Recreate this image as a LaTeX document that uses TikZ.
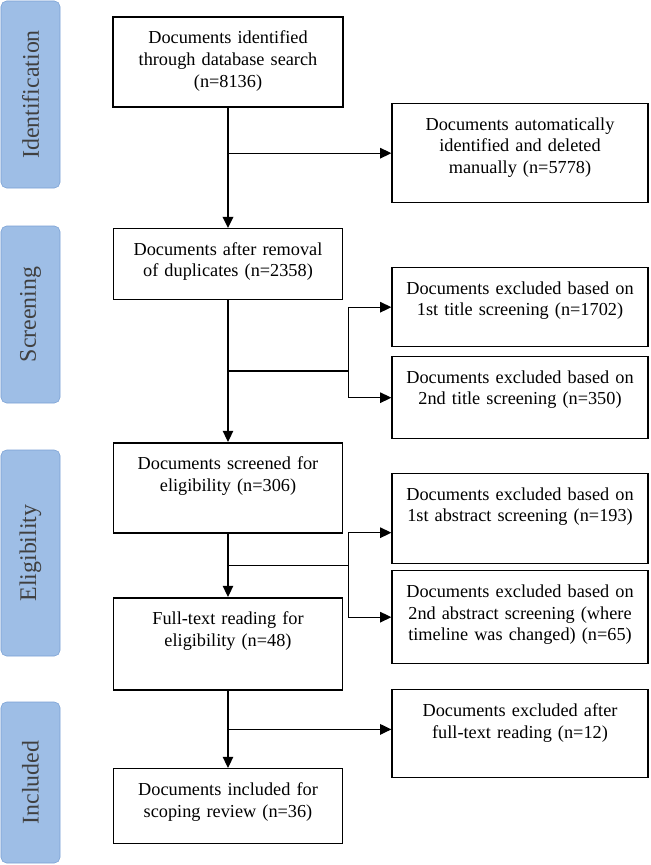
\documentclass[tikz,border=0pt]{standalone}
\usepackage{fontspec}
\setmainfont{Liberation Serif}
\usetikzlibrary{arrows.meta, positioning, calc}
\definecolor{phaseblue}{RGB}{158, 190, 230}
\definecolor{phaseedge}{RGB}{122, 160, 212}
\definecolor{phasetext}{RGB}{64, 64, 64}

\begin{document}
\begin{tikzpicture}[
    mainbox/.style={rectangle, draw=black, line width=1pt, anchor=north, text width=155pt, inner xsep=4pt, inner ysep=8pt, align=center, font=\fontsize{13}{15.5}\selectfont, execute at begin node=\strut},
    sidebox/.style={mainbox, text width=174pt},
    phase/.style={rectangle, rounded corners=4pt, rotate=90, minimum height=1.475cm, draw=phaseedge, fill=phaseblue, text=phasetext, font=\fontsize{17}{20}\selectfont},
    arrow/.style={line width=0.8pt, -{Triangle[length=8pt, width=7.5pt]}},
    link/.style={line width=0.8pt}
]
\useasboundingbox (0,0) rectangle (16.25,-21.625);

% Phases
\node (identification) [phase, minimum width=4.675cm] at (0.7625,-2.3625) {Identification};
\node (screening) [phase, minimum width=4.425cm] at (0.7625,-7.8625) {Screening};
\node (eligibility) [phase, minimum width=5.15cm] at (0.7625,-13.825) {Eligibility};
\node (includedphase) [phase, minimum width=4.025cm] at (0.7625,-19.5625) {Included};

% Main column
\node (identified) [mainbox, line width=1.4pt, text depth=37.15pt] at (5.7,-0.4) {Documents identified\\through database search\\(n=8136)};
\node (deduplicated) [mainbox, text depth=23.65pt] at (5.7,-5.7) {Documents after removal\\of duplicates (n=2358)};
\node (screened) [mainbox, line width=1.3pt, text depth=37.15pt] at (5.7,-11.05) {Documents screened for\\eligibility (n=306)};
\node (fulltext) [mainbox, line width=1.3pt, text depth=38.55pt] at (5.7,-14.925) {Full-text reading for\\eligibility (n=48)};
\node (included) [mainbox, text depth=26.45pt] at (5.7,-19.2) {Documents included for\\scoping review (n=36)};

% Excluded column
\node (autodeleted) [sidebox, text depth=43.55pt] at (13,-2.575) {Documents automatically\\identified and deleted\\manually (n=5778)};
\node (title1) [sidebox, text depth=29.35pt] at (13,-6.675) {Documents excluded based on\\1st title screening (n=1702)};
\node (title2) [sidebox, text depth=31.45pt] at (13,-8.9) {Documents excluded based on\\2nd title screening (n=350)};
\node (abstract1) [sidebox, text depth=37.15pt] at (13,-11.825) {Documents excluded based on\\1st abstract screening (n=193)};
\node (abstract2) [sidebox, text depth=39.25pt] at (13,-14.25) {Documents excluded based on\\2nd abstract screening (where\\timeline was changed) (n=65)};
\node (afterreading) [sidebox, text depth=35.75pt] at (13,-17.225) {Documents excluded after\\full-text reading (n=12)};

% Arrows identification
\draw [arrow, line width=1.6pt] (identified) -- (deduplicated);
\coordinate (split1) at (identified.south |- autodeleted.west);
\draw [arrow] (split1) -- (autodeleted);

% Arrows screening
\draw [arrow] (deduplicated) -- (screened);
\coordinate (split2) at ($(deduplicated.south)!0.5!(screened.north)$);
\coordinate (bus2) at ($(split2 -| title1.west) + (-1.075,0)$);
\draw [link, line width=1.4pt] (split2) -- (bus2);
\draw [arrow] (bus2) |- (title1.west);
\draw [arrow] (bus2) |- (title2.west);

% Arrows eligibility
\draw [arrow] (screened) -- (fulltext);
\coordinate (split3) at ($(screened.south)!0.5!(fulltext.north)$);
\coordinate (bus3) at ($(split3 -| abstract1.west) + (-1.075,0)$);
\draw [link] (split3) -- (bus3);
\draw [arrow] (bus3) |- ([yshift=-0.35cm]abstract1.west);
\draw [arrow] (bus3) |- (abstract2.west);

% Arrows included
\draw [arrow] (fulltext) -- (included);
\coordinate (split4) at ($(fulltext.south)!0.5!(included.north)$);
\draw [arrow] (split4) -- (split4 -| afterreading.west);

\end{tikzpicture}
\end{document}
